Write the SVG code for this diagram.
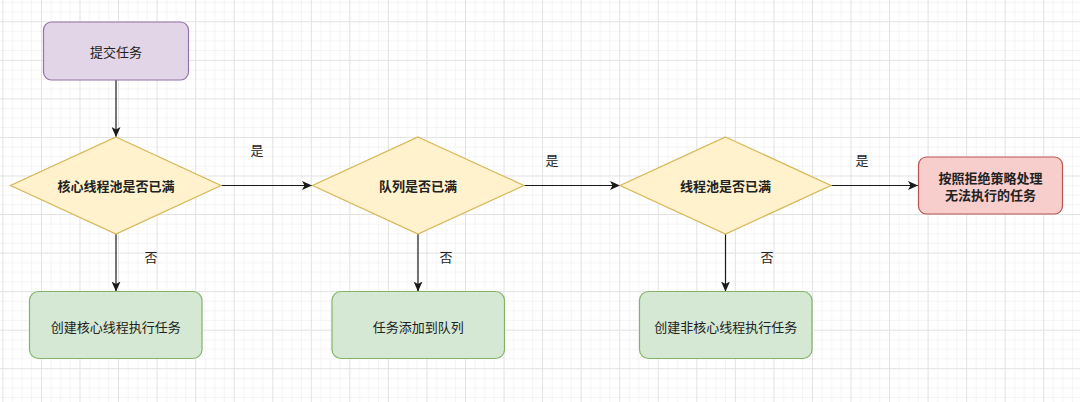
<svg xmlns="http://www.w3.org/2000/svg" width="1080" height="402" viewBox="0 0 1080 402">
  <defs>
    <pattern id="grid" patternUnits="userSpaceOnUse" x="2.4" y="21.3" width="38.55" height="38.55">
      <rect x="9.64" y="0" width="0.8" height="38.55" fill="#f1f1f1"/>
      <rect x="19.28" y="0" width="0.8" height="38.55" fill="#f1f1f1"/>
      <rect x="28.91" y="0" width="0.8" height="38.55" fill="#f1f1f1"/>
      <rect x="0" y="9.64" width="38.55" height="0.8" fill="#f1f1f1"/>
      <rect x="0" y="19.28" width="38.55" height="0.8" fill="#f1f1f1"/>
      <rect x="0" y="28.91" width="38.55" height="0.8" fill="#f1f1f1"/>
      <rect x="0" y="0" width="1" height="38.55" fill="#e2e2e2"/>
      <rect x="0" y="0" width="38.55" height="1" fill="#e2e2e2"/>
    </pattern>
    <marker id="arrow" markerUnits="userSpaceOnUse" markerWidth="11" markerHeight="9" refX="10" refY="4.5" orient="auto">
      <path d="M0,0 L10,4.5 L0,9 L2.5,4.5 Z" fill="#1a1a1a"/>
    </marker>
  </defs>
  <style>
    text { font-family: "Noto Sans CJK SC", "Liberation Sans", sans-serif; font-size: 13px; fill: #222; text-anchor: middle; dominant-baseline: central; }
    .bold { font-weight: bold; }
    .edge { stroke: #1a1a1a; stroke-width: 1.2; fill: none; marker-end: url(#arrow); }
    .start { fill: #e1d5e7; stroke: #9673a6; stroke-width: 1.2; }
    .dec { fill: #fff2cc; stroke: #d6b656; stroke-width: 1.2; }
    .act { fill: #d5e8d4; stroke: #82b366; stroke-width: 1.2; }
    .rej { fill: #f8cecc; stroke: #b85450; stroke-width: 1.2; }
  </style>
  <rect x="0" y="0" width="1080" height="402" fill="#ffffff"/>
  <rect x="0" y="0" width="1080" height="402" fill="url(#grid)"/>

  <g id="connectors">
    <line class="edge" x1="116" y1="80" x2="116" y2="137"/>
    <line class="edge" x1="221" y1="185.5" x2="312" y2="185.5"/>
    <line class="edge" x1="524" y1="185.5" x2="620" y2="185.5"/>
    <line class="edge" x1="831" y1="185.5" x2="918" y2="185.5"/>
    <line class="edge" x1="116" y1="234" x2="116" y2="291.5"/>
    <line class="edge" x1="418" y1="234" x2="418" y2="291.5"/>
    <line class="edge" x1="725.5" y1="234" x2="725.5" y2="291.5"/>
    <text x="257" y="149">是</text>
    <text x="552" y="159">是</text>
    <text x="862" y="159">是</text>
    <text x="151" y="256">否</text>
    <text x="446" y="256">否</text>
    <text x="767" y="256">否</text>
  </g>

  <g id="submit">
    <rect class="start" x="43.5" y="22" width="145" height="58" rx="8"/>
    <text x="116" y="51">提交任务</text>
  </g>
  <g id="coreFull">
    <polygon class="dec" points="116,137 221,185.5 116,234 10.5,185.5"/>
    <text class="bold" x="116" y="185.5">核心线程池是否已满</text>
  </g>
  <g id="queueFull">
    <polygon class="dec" points="418,137 524,185.5 418,234 312.5,185.5"/>
    <text class="bold" x="418" y="185.5">队列是否已满</text>
  </g>
  <g id="poolFull">
    <polygon class="dec" points="725.5,137 831,185.5 725.5,234 620,185.5"/>
    <text class="bold" x="725.5" y="185.5">线程池是否已满</text>
  </g>
  <g id="reject">
    <rect class="rej" x="918.5" y="157" width="144" height="57" rx="8"/>
    <text class="bold" x="990.5" y="177.5">按照拒绝策略处理</text>
    <text class="bold" x="990.5" y="194.5">无法执行的任务</text>
  </g>
  <g id="createCore">
    <rect class="act" x="29.5" y="291.5" width="172.5" height="67" rx="9"/>
    <text x="115.75" y="326">创建核心线程执行任务</text>
  </g>
  <g id="addQueue">
    <rect class="act" x="332" y="291.5" width="172.5" height="67" rx="9"/>
    <text x="418.25" y="326">任务添加到队列</text>
  </g>
  <g id="createNonCore">
    <rect class="act" x="639.5" y="291.5" width="172.5" height="67" rx="9"/>
    <text x="725.75" y="326">创建非核心线程执行任务</text>
  </g>
</svg>
